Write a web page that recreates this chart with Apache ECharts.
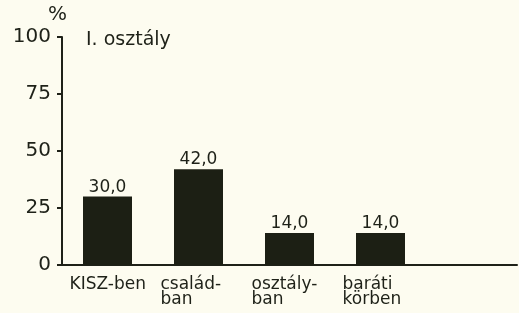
<!DOCTYPE html>
<html>
<head>
<meta charset="utf-8">
<script src="https://cdn.jsdelivr.net/npm/echarts@6/dist/echarts.min.js"></script>
<style>
  html, body { margin: 0; padding: 0; background: #fdfcf0; }
  #chart { width: 519px; height: 313px; }
</style>
</head>
<body>
<div id="chart"></div>
<script>
// adatok
const categories = ['KISZ-ben', 'család-\nban', 'osztály-\nban', 'baráti\nkörben', '']
const values = [30.0, 42.0, 14.0, 14.0, '-']
const yTicks = [0, 25, 50, 75, 100]

const ink = '#1e2118'
const font = 'DejaVu Sans'

const chart = echarts.init(document.getElementById('chart'))

chart.setOption({
  backgroundColor: '#fdfcf0',
  animation: false,
  grid: { left: 62, right: 2, top: 37, bottom: 48 },
  graphic: [
    {
      type: 'text', left: 48, top: 5,
      style: { text: '%', fill: ink, font: '20px ' + font }
    },
    {
      type: 'text', left: 86, top: 31,
      style: { text: 'I. osztály', fill: ink, font: '19px ' + font }
    }
  ],
  xAxis: {
    type: 'category',
    data: categories,
    axisLine: { lineStyle: { color: ink, width: 2 } },
    axisTick: { show: false },
    axisLabel: {
      interval: 0,
      color: ink,
      margin: 12,
      formatter: v => v.split('\n').map(s => '{a|' + s + '}').join('\n'),
      rich: {
        a: {
          color: ink,
          fontFamily: font,
          fontSize: 17,
          lineHeight: 15,
          width: 76,
          align: 'left'
        }
      }
    }
  },
  yAxis: {
    type: 'value',
    min: 0,
    max: 100,
    interval: 25,
    splitLine: { show: false },
    axisLine: { show: true, lineStyle: { color: ink, width: 2 } },
    axisTick: { show: true, length: 5, lineStyle: { color: ink, width: 2 } },
    axisLabel: {
      color: ink,
      fontFamily: font,
      fontSize: 20,
      margin: 11,
      formatter: v => yTicks.includes(v) ? String(v) : ''
    }
  },
  series: [
    {
      type: 'bar',
      data: values,
      barWidth: 49,
      itemStyle: { color: '#1c1f14' },
      label: {
        show: true,
        position: 'top',
        distance: 1,
        color: ink,
        fontFamily: font,
        fontSize: 17,
        formatter: p => p.value.toFixed(1).replace('.', ',')
      }
    }
  ]
})
</script>
</body>
</html>
